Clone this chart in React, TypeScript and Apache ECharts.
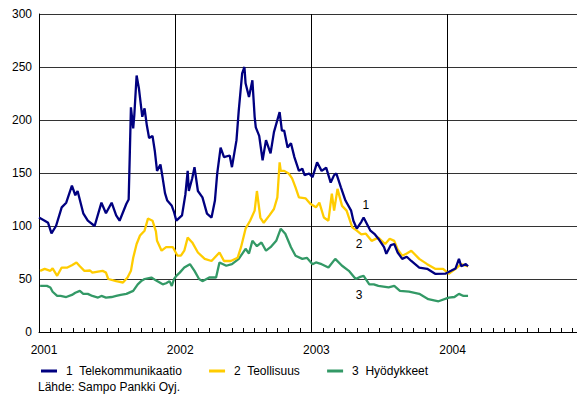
import React, { useEffect, useRef } from "react";
import * as echarts from "echarts";

// x = months since January 2001, y = index value
const telekommunikaatio: [number, number][] = [
  [0.0, 108], [0.5, 105], [0.8, 103], [1.1, 93], [1.5, 100], [2.0, 117.6], [2.4, 122], [2.9, 138],
  [3.2, 129], [3.4, 133], [3.9, 112], [4.3, 105], [4.9, 100], [5.5, 122], [5.9, 112], [6.4, 122],
  [6.8, 110], [7.1, 105], [7.7, 121], [7.9, 125], [8.0, 168], [8.1, 212], [8.3, 192], [8.4, 205],
  [8.6, 242], [8.8, 230], [9.0, 212], [9.1, 203], [9.3, 211], [9.5, 195], [9.7, 183], [10.0, 185],
  [10.2, 171], [10.4, 152], [10.7, 158], [10.9, 145], [11.1, 131], [11.3, 124], [11.7, 119],
  [11.9, 113], [12.1, 105], [12.6, 110], [12.9, 130], [13.1, 152], [13.2, 133], [13.5, 145],
  [13.7, 155.5], [14.0, 133], [14.4, 127], [14.8, 111.7], [15.2, 108], [15.5, 124], [15.7, 149.5],
  [16.0, 174], [16.3, 165], [16.8, 166.5], [17.0, 155.5], [17.4, 181], [17.6, 209], [17.9, 244],
  [18.1, 250], [18.2, 234.6], [18.5, 221.7], [18.8, 237.5], [19.0, 203], [19.1, 193], [19.4, 185],
  [19.7, 162], [20.0, 181], [20.4, 168.5], [20.7, 188.6], [21.2, 207.5], [21.4, 190], [21.6, 190],
  [21.9, 174], [22.2, 178], [22.5, 165], [22.9, 152], [23.2, 154], [23.4, 148], [23.8, 149.5],
  [24.1, 146], [24.5, 160], [24.9, 152], [25.3, 155], [25.7, 141], [26.0, 148], [26.2, 149.5],
  [26.6, 136.5], [27.0, 124], [27.5, 114.5], [27.7, 105], [28.0, 97.5], [28.4, 104], [28.6, 108],
  [29.2, 95.6], [29.6, 92], [29.9, 88], [30.4, 80], [30.6, 73.8], [31.0, 82], [31.3, 83],
  [31.6, 75], [32.0, 69], [32.4, 71], [32.8, 67], [33.5, 60.8], [34.2, 59.6], [34.9, 54.9],
  [35.8, 55], [36.3, 57.7], [36.7, 60], [37.0, 69], [37.2, 62], [37.6, 64], [37.8, 62],
];

const teollisuus: [number, number][] = [
  [0.1, 57.7], [0.5, 59.6], [1.0, 57.7], [1.2, 60], [1.6, 53], [2.0, 60.8], [2.5, 60.8], [2.9, 63],
  [3.3, 65.6], [3.6, 62], [4.0, 57.7], [4.5, 58], [4.7, 56], [5.2, 57], [5.6, 57.7], [5.9, 56],
  [6.1, 50], [6.8, 48], [7.4, 46.7], [7.8, 51.4], [8.1, 57.7], [8.3, 70], [8.6, 83], [8.9, 91],
  [9.3, 95.6], [9.6, 107], [10.0, 105], [10.3, 95], [10.4, 86], [10.8, 76.7], [11.2, 80],
  [11.8, 80], [12.2, 72], [12.5, 72], [12.8, 76.7], [13.1, 89], [13.5, 84.5], [14.0, 75],
  [14.6, 69], [15.2, 67], [15.9, 75], [16.3, 67], [16.9, 67], [17.5, 70], [17.8, 80], [18.2, 97.5],
  [18.6, 105], [19.0, 114.5], [19.2, 133], [19.5, 108], [19.8, 103], [20.3, 110], [20.7, 116],
  [21.0, 127], [21.2, 160], [21.3, 152], [21.6, 152], [22.0, 149.5], [22.3, 145], [22.6, 136.5],
  [22.9, 127], [23.5, 126], [23.9, 121], [24.4, 117.6], [24.7, 122], [25.1, 108], [25.5, 105],
  [25.8, 130.6], [26.0, 114.5], [26.3, 135], [26.7, 119], [27.1, 114.5], [27.6, 98.7], [28.0, 95.6],
  [28.4, 92], [28.8, 92.7], [29.3, 86], [29.9, 89], [30.5, 83], [30.9, 88], [31.3, 86], [31.6, 78],
  [32.0, 72], [32.4, 74], [32.8, 76.7], [33.5, 69], [34.2, 64], [34.9, 59.6], [35.6, 59.6],
  [36.1, 55], [36.7, 59.6], [37.2, 64], [37.8, 62],
];

const hyodykkeet: [number, number][] = [
  [0.1, 43.5], [0.7, 43.5], [1.0, 42], [1.2, 38], [1.6, 34], [1.9, 34], [2.4, 33], [2.9, 35],
  [3.2, 37], [3.6, 38.8], [3.9, 36], [4.3, 36], [4.7, 34], [5.2, 32.5], [5.5, 34], [5.9, 32.5],
  [6.4, 33], [6.8, 34], [7.2, 35], [7.7, 36], [8.3, 38.8], [8.7, 45], [9.0, 48], [9.3, 50],
  [9.9, 51.4], [10.4, 48], [10.9, 45], [11.2, 46], [11.5, 48], [11.7, 43.5], [11.9, 50], [12.1, 53],
  [12.4, 56], [12.8, 60.8], [13.3, 64], [13.7, 57.7], [14.1, 50], [14.4, 48], [14.6, 49],
  [15.0, 51.4], [15.6, 51.4], [15.9, 65.6], [16.5, 62.5], [17.0, 64], [17.6, 69], [18.2, 78.5],
  [18.5, 74], [18.8, 86], [19.2, 81], [19.6, 84.5], [20.0, 76.7], [20.4, 80], [20.9, 86],
  [21.3, 97.5], [21.7, 92.7], [22.2, 80], [22.6, 72], [23.2, 69], [23.6, 70], [24.1, 64],
  [24.4, 65.6], [24.9, 64], [25.5, 60.8], [26.1, 69], [26.7, 62.5], [27.3, 57.7], [27.9, 50],
  [28.3, 52], [28.6, 53], [29.1, 45], [29.5, 45], [29.9, 43.5], [30.8, 42], [31.3, 43.5],
  [31.8, 38.8], [32.6, 38], [33.5, 36], [34.3, 31], [35.2, 29], [36.1, 32.5], [36.6, 33],
  [37.0, 36], [37.4, 34], [37.8, 34],
];

const seriesNames = ["1  Telekommunikaatio", "2  Teollisuus", "3  Hyödykkeet"];
const seriesColors = ["#000080", "#FFCC00", "#339966"];
const yearLabels = ["2001", "2002", "2003", "2004"];
// in-chart series numbers: [label, month, value]
const seriesTags: [string, number, number][] = [
  ["1", 28.8, 120],
  ["2", 28.2, 83],
  ["3", 28.2, 35],
];
const sourceNote = "Lähde: Sampo Pankki Oyj.";

const FONT = "'Liberation Sans', Arial, sans-serif";

export default function App() {
  const ref = useRef<HTMLDivElement>(null);

  useEffect(() => {
    if (!ref.current) return;
    const chart = echarts.init(ref.current, null, { renderer: "svg" });
    const xMax = 47.4;
    const seriesData = [telekommunikaatio, teollisuus, hyodykkeet];

    chart.setOption({
      animation: false,
      backgroundColor: "#ffffff",
      textStyle: { fontFamily: FONT },
      grid: { left: 39, right: 0, top: 14, bottom: 62, containLabel: false },
      legend: {
        left: 36,
        top: 360,
        itemGap: 27,
        itemWidth: 16,
        itemHeight: 3,
        icon: "rect",
        textStyle: { fontFamily: FONT, fontSize: 12, color: "#000", padding: [0, 0, 0, 4] },
        data: seriesNames,
      },
      graphic: [
        {
          type: "text",
          left: 38,
          top: 381,
          style: { text: sourceNote, fontFamily: FONT, fontSize: 12, fill: "#000" },
        },
      ],
      xAxis: [
        {
          type: "value",
          min: 0,
          max: xMax,
          interval: 1,
          axisLine: { show: true, lineStyle: { color: "#000", width: 1 } },
          axisTick: { show: true, inside: true, length: 4, lineStyle: { color: "#000" } },
          splitLine: { show: false },
          axisLabel: {
            show: true,
            margin: 12,
            color: "#000",
            fontFamily: FONT,
            fontSize: 12,
            padding: [0, 0, 0, 10],
            showMaxLabel: false,
            formatter: (v: number) => {
              const i = Math.round(v);
              return i % 12 === 0 ? yearLabels[i / 12] ?? "" : "";
            },
          },
        },
        {
          type: "value",
          position: "top",
          min: 0,
          max: xMax,
          interval: 12,
          axisLine: { show: false },
          axisTick: { show: false },
          axisLabel: { show: false },
          splitLine: { show: true, lineStyle: { color: "#000", width: 1 } },
        },
      ],
      yAxis: {
        type: "value",
        min: 0,
        max: 300,
        interval: 50,
        axisLine: { show: true, lineStyle: { color: "#000", width: 1 } },
        axisTick: { show: false },
        axisLabel: { color: "#000", fontFamily: FONT, fontSize: 12, margin: 7 },
        splitLine: { show: true, lineStyle: { color: "#333", width: 1 } },
      },
      series: seriesData.map((data, i) => ({
        name: seriesNames[i],
        type: "line",
        xAxisIndex: 0,
        data,
        showSymbol: false,
        symbol: "none",
        lineStyle: { color: seriesColors[i], width: 2.3 },
        itemStyle: { color: seriesColors[i] },
        z: 10 - i,
        markPoint: {
          symbol: "rect",
          symbolSize: [1, 1],
          itemStyle: { color: "transparent" },
          label: {
            show: true,
            position: "inside",
            color: "#000",
            fontFamily: FONT,
            fontSize: 12,
            formatter: seriesTags[i][0],
          },
          data: [{ coord: [seriesTags[i][1], seriesTags[i][2]] }],
        },
      })),
    });

    return () => chart.dispose();
  }, []);

  return (
    <div
      ref={ref}
      style={{ position: "absolute", left: 0, top: 0, width: 577, height: 394 }}
    />
  );
}
